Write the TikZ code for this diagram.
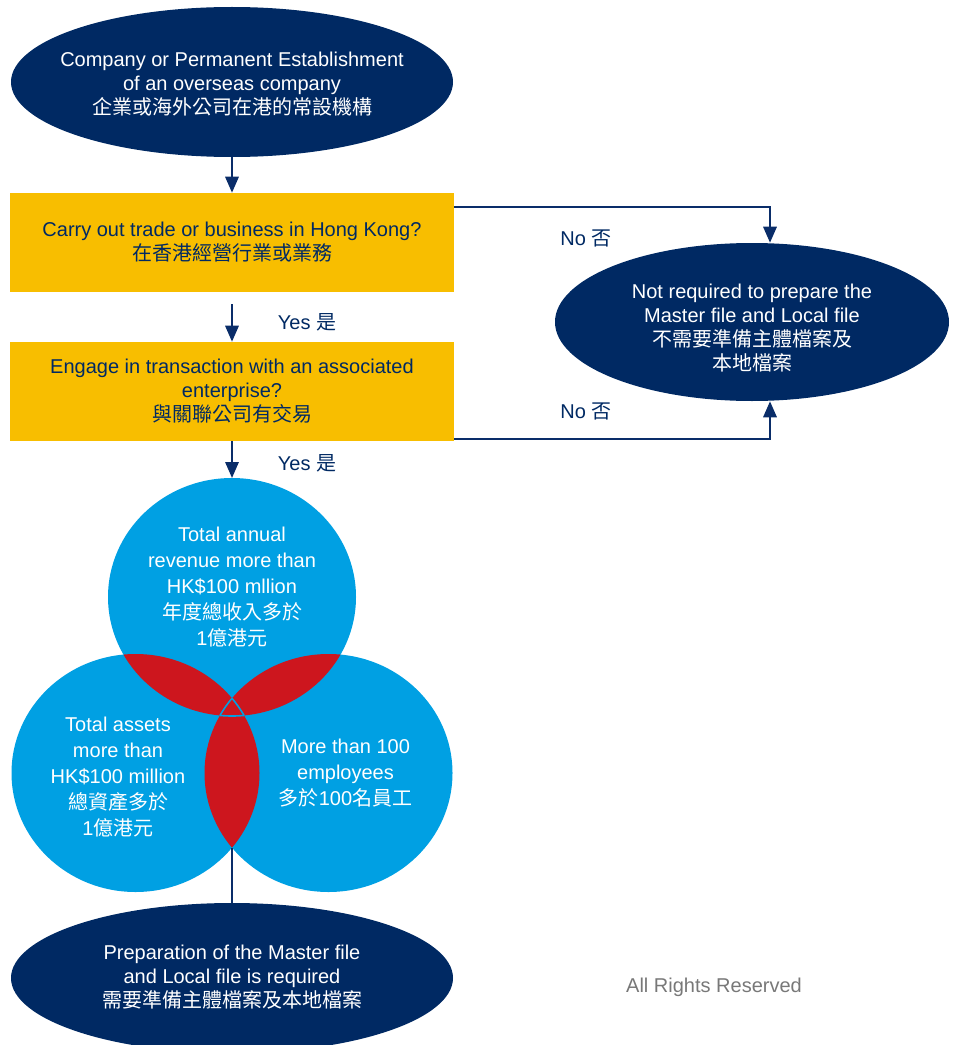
\documentclass[tikz,border=0pt]{standalone}
\usepackage{fontspec}
\setmainfont{Liberation Sans}
\newfontfamily\cjk{Noto Sans CJK TC}
\usetikzlibrary{shapes.geometric,arrows.meta}
\definecolor{hknavy}{RGB}{0,41,99}
\definecolor{hkline}{RGB}{10,45,105}
\definecolor{hkyellow}{RGB}{248,190,0}
\definecolor{hkblue}{RGB}{0,160,227}
\definecolor{hkred}{RGB}{205,22,30}
\definecolor{hkgray}{RGB}{120,120,120}
\newcommand\circrev{(232,597) ellipse [x radius=93pt, y radius=89.25pt]}
\newcommand\circasset{(135.5,773) ellipse [x radius=93pt, y radius=89.25pt]}
\newcommand\circstaff{(328.5,773) ellipse [x radius=93pt, y radius=89.25pt]}

\begin{document}
\begin{tikzpicture}[x=0.75pt, y=-0.75pt,
    endpt/.style={ellipse, fill=hknavy, inner sep=0pt},
    endtxt/.style={text=white, align=center, font=\fontsize{15}{18}\selectfont},
    qbox/.style={rectangle, fill=hkyellow, minimum width=333pt, minimum height=74.25pt,
      text=hknavy, align=center, font=\fontsize{15}{18}\selectfont},
    flow/.style={hkline, line width=1.6pt, -{Triangle[length=12pt,width=10pt]}},
    ans/.style={text=hknavy, font=\fontsize{15}{18}\selectfont},
    vtxt/.style={text=white, align=center, font=\fontsize{15}{19.5}\selectfont}]
    \useasboundingbox (0,0) rectangle (957,1045);
    % ELLISSI
    \node[endpt, minimum width=331.5pt, minimum height=112.5pt] (start) at (232,82) {};
    \node[endtxt] (starttxt) at (232,84) {Company or Permanent Establishment\\of an overseas company\\{\cjk 企業或海外公司在港的常設機構}};
    \node[endpt, minimum width=295.5pt, minimum height=118.5pt] (noreq) at (752,322) {};
    \node[endtxt] (noreqtxt) at (752,328) {Not required to prepare the\\Master file and Local file\\{\cjk 不需要準備主體檔案及}\\{\cjk 本地檔案}};
    \node[endpt, minimum width=331.5pt, minimum height=112.5pt] (req) at (232,978) {};
    \node[endtxt] (reqtxt) at (232,977) {Preparation of the Master file\\and Local file is required\\{\cjk 需要準備主體檔案及本地檔案}};
    % DOMANDE
    \node[qbox] (q1) at (232,242.5) {Carry out trade or business in Hong Kong?\\{\cjk 在香港經營行業或業務}};
    \node[qbox] (q2) at (232,391.5) {Engage in transaction with an associated\\enterprise?\\{\cjk 與關聯公司有交易}};
    % VENN
    \fill[hkblue] \circrev;
    \fill[hkblue] \circasset;
    \fill[hkblue] \circstaff;
    \begin{scope}
        \clip \circrev;
        \fill[hkred] \circasset;
        \fill[hkred] \circstaff;
    \end{scope}
    \begin{scope}
        \clip \circasset;
        \fill[hkred] \circstaff;
    \end{scope}
    \begin{scope}
        \clip \circasset; \clip \circstaff;
        \draw[hkblue, line width=1.2pt] \circrev;
    \end{scope}
    \begin{scope}
        \clip \circrev; \clip \circstaff;
        \draw[hkblue, line width=1.2pt] \circasset;
    \end{scope}
    \begin{scope}
        \clip \circrev; \clip \circasset;
        \draw[hkblue, line width=1.2pt] \circstaff;
    \end{scope}
    \coordinate (vtop) at (232,478);
    \coordinate (vbot) at (232,848);
    \node[vtxt] (revtxt) at (232,587.5) {Total annual\\revenue more than\\HK\$100 mllion\\{\cjk 年度總收入多於}\\1{\cjk 億港元}};
    \node[vtxt] (assettxt) at (118,777.5) {Total assets\\more than\\HK\$100 million\\{\cjk 總資產多於}\\1{\cjk 億港元}};
    \node[vtxt] (stafftxt) at (345.5,773.5) {More than 100\\employees\\{\cjk 多於}100{\cjk 名員工}};
    % FRECCE
    \draw[flow] (start.south) -- (q1.north);
    \draw[flow] ([yshift=-9pt]q1.south) -- (q2.north);
    \draw[flow] (q2.south) -- (vtop);
    \draw[flow] ([yshift=-10.9pt]q1.north east) -| ([xshift=13.5pt]noreq.north);
    \draw[flow] ([yshift=1.5pt]q2.south east) -| ([xshift=13.5pt]noreq.south);
    \draw[hkline, line width=1.6pt] (vbot) -- (req.north);
    \node[ans] (no1) at (586,238) {No {\cjk 否}};
    \node[ans] (no2) at (586,411) {No {\cjk 否}};
    \node[ans] (yes1) at (307,322) {Yes {\cjk 是}};
    \node[ans] (yes2) at (307,463) {Yes {\cjk 是}};
    \node[text=hkgray, font=\fontsize{15}{18}\selectfont] (rights) at (714,987) {All Rights Reserved};
\end{tikzpicture}
\end{document}
